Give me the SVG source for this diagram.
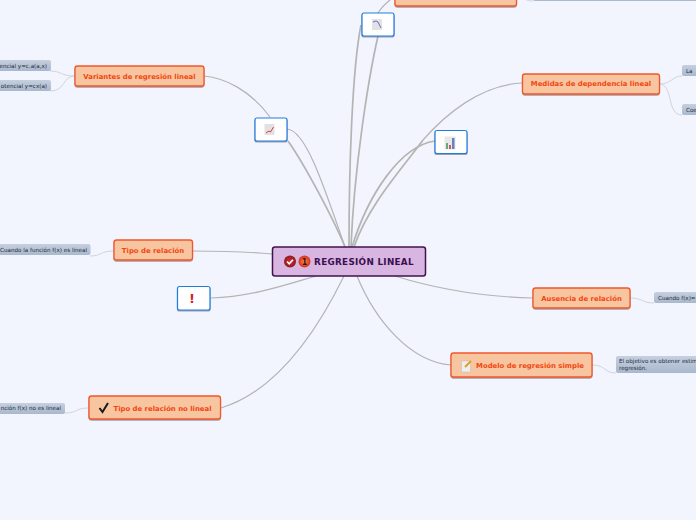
<svg xmlns="http://www.w3.org/2000/svg" width="696" height="520" viewBox="0 0 696 520">
<style>
text{font-family:"DejaVu Sans","Liberation Sans",sans-serif}
.c{fill:none;stroke:#b4b4b4;stroke-width:1.2}
.c2{fill:none;stroke:#b4b4b4;stroke-width:1.7}
.l{fill:none;stroke:#d0d4dc;stroke-width:1}
.o{fill:#f7c6a0;stroke:#f4572a;stroke-width:1.3;filter:url(#s)}
.ot{fill:#f4450f;font-size:6.9px;font-weight:bold;text-anchor:middle}
.w{fill:#fff;stroke:#1f7fe0;stroke-width:1.2;filter:url(#s)}
.b{fill:url(#g)}
.bt{fill:#1f2836;font-size:5.6px}
</style>
<defs>
<filter id="s" x="-10%" y="-10%" width="120%" height="130%"><feDropShadow dx="0" dy="1" stdDeviation="0.7" flood-color="#555" flood-opacity="0.55"/></filter>
<linearGradient id="g" x1="0" y1="0" x2="0" y2="1"><stop offset="0" stop-color="#c5d0e0"/><stop offset="1" stop-color="#a9b8cd"/></linearGradient>
<radialGradient id="r1"><stop offset="0" stop-color="#d8303a"/><stop offset="1" stop-color="#8e1a20"/></radialGradient>
<radialGradient id="r2"><stop offset="0" stop-color="#f58a50"/><stop offset="1" stop-color="#d8301c"/></radialGradient>
</defs>
<rect width="696" height="520" fill="#f2f5fe"/>
<g id="connectors">
<path class="c2" d="M345 247C335 222 305 165 288 141"/>
<path class="c" d="M287 129C305 130 322 180 345 247"/>
<path class="c" d="M270 117C250 90 225 78 204 76"/>
<path class="c2" d="M349 247C349 170 352 70 361 25"/>
<path class="c2" d="M351 247C354 170 368 80 378 36"/>
<path class="c" d="M378 13C381 8 385 4 390 0"/>
<path class="c2" d="M354 247C368 205 405 165 423 140"/>
<path class="c" d="M423 140C445 115 480 85 522 83"/>
<path class="c2" d="M352 247C368 195 400 146 435 141"/>
<path class="c" d="M192 251C220 251 250 252 272 254"/>
<path class="c" d="M211 298C250 297 285 285 316 276"/>
<path class="c" d="M221 408C280 390 320 325 344 276"/>
<path class="c" d="M357 276C375 320 410 362 451 365"/>
<path class="c" d="M395 276C440 290 490 297 533 298"/>
<path class="l" d="M75 76C60 76 62 71 50 71"/>
<path class="l" d="M75 76C62 76 66 91 50 91"/>
<path class="l" d="M114 251C100 251 102 256 90 256"/>
<path class="l" d="M89 408C75 408 78 413 65 413"/>
<path class="l" d="M659 84C672 84 672 76 682 76"/>
<path class="l" d="M659 84C674 84 666 115 682 115"/>
<path class="l" d="M630 298C643 298 642 303 654 303"/>
<path class="l" d="M592 365C606 365 604 373 616 373"/>
<path class="l" d="M516 -3C525 -3 525 1 533 1"/>
</g>
<g id="n-central">
<rect x="272.500" y="247" width="153" height="29" rx="2.500" fill="#d9b6e1" stroke="#43124f" stroke-width="1.500"/>
<circle cx="290" cy="261.500" r="6" fill="url(#r1)"/>
<path d="M287 261.500l2.200 2.300 3.800-4" fill="none" stroke="#fff" stroke-width="1.600"/>
<circle cx="304.500" cy="261.500" r="6" fill="url(#r2)"/>
<text x="304.500" y="264.500" font-size="8" font-weight="bold" text-anchor="middle" fill="#3a1a10">1</text>
<text x="364" y="265" font-size="8.800" font-weight="bold" text-anchor="middle" fill="#3a1050" letter-spacing="0.300">REGRESIÓN LINEAL</text>
</g>
<g id="n-variantes">
<rect class="o" x="75" y="66" width="129" height="20" rx="2.500"/>
<text class="ot" x="139.500" y="79">Variantes de regresión lineal</text>
</g>
<g id="n-var-l1"><rect class="b" x="-20" y="60" width="71" height="11" rx="2"/><text class="bt" x="47" y="68" text-anchor="end">encial y=c.a(a,x)</text></g>
<g id="n-var-l2"><rect class="b" x="-20" y="80" width="71" height="11" rx="2"/><text class="bt" x="47" y="88" text-anchor="end">otencial y=cx(a)</text></g>
<g id="n-icon1">
<rect class="w" x="255" y="118" width="32" height="23" rx="2"/>
<rect x="264.500" y="124" width="10" height="11" fill="#e2e2e2"/><path d="M266 133l3-2 1.500 1 3-5" fill="none" stroke="#d04040"/>
</g>
<g id="n-icon2">
<rect class="w" x="362" y="13" width="32" height="23" rx="2"/>
<rect x="372" y="19" width="10" height="11" fill="#e2e2e2"/><path d="M373 22l3-1 2 1 3 6" fill="none" stroke="#6a6ad8"/>
</g>
<g id="n-top"><rect class="o" x="395" y="-14" width="121.500" height="20" rx="2.500"/></g>
<g id="n-top-l"><rect class="b" x="533" y="-10" width="170" height="11" rx="2"/></g>
<g id="n-icon3">
<rect class="w" x="435" y="130.500" width="32" height="23" rx="2"/>
<rect x="444.500" y="136.500" width="11" height="13" fill="#e8e8e8"/><rect x="446" y="143" width="2" height="6" fill="#6fa878"/><rect x="449" y="145" width="2" height="4" fill="#c86060"/><rect x="452" y="138" width="2.500" height="11" fill="#6a80c8"/>
</g>
<g id="n-medidas">
<rect class="o" x="522.500" y="74" width="137" height="20" rx="2.500"/>
<text class="ot" x="591" y="86">Medidas de dependencia lineal</text>
</g>
<g id="n-med-l1"><rect class="b" x="682" y="65" width="20" height="11" rx="2"/><text class="bt" x="686" y="73">La</text></g>
<g id="n-med-l2"><rect class="b" x="682" y="104" width="20" height="11" rx="2"/><text class="bt" x="686" y="112">Coe</text></g>
<g id="n-tipo">
<rect class="o" x="114" y="240" width="78.500" height="20" rx="2.500"/>
<text class="ot" x="153" y="253">Tipo de relación</text>
</g>
<g id="n-tipo-l"><rect class="b" x="-10" y="244" width="100.500" height="11" rx="2"/><text class="bt" x="0" y="252">Cuando la función f(x) es lineal</text></g>
<g id="n-excl">
<rect class="w" x="177.500" y="286.500" width="32.500" height="23.500" rx="2"/>
<text x="192" y="303" font-size="13" font-weight="bold" text-anchor="middle" fill="#d8202a">!</text>
</g>
<g id="n-no">
<rect class="o" x="89" y="396" width="131.500" height="23" rx="2.500"/>
<path d="M99.500 408l3 4 5.500-9" fill="none" stroke="#1a1a1a" stroke-width="2"/>
<text class="ot" x="162.500" y="410.500">Tipo de relación no lineal</text>
</g>
<g id="n-no-l"><rect class="b" x="-10" y="403" width="75" height="11" rx="2"/><text class="bt" x="61" y="410" text-anchor="end">nción f(x) no es lineal</text></g>
<g id="n-ausencia">
<rect class="o" x="533" y="288" width="97" height="20" rx="2.500"/>
<text class="ot" x="581.500" y="300.500">Ausencia de relación</text>
</g>
<g id="n-aus-l"><rect class="b" x="654" y="292" width="50" height="11" rx="2"/><text class="bt" x="658" y="300">Cuando f(x)=</text></g>
<g id="n-modelo">
<rect class="o" x="451" y="353" width="141" height="24" rx="2.500"/>
<rect x="461.500" y="361" width="9" height="11" fill="#eee" stroke="#bbb" stroke-width="0.500"/><path d="M465 367l6-6" stroke="#e0a020" stroke-width="2"/>
<text class="ot" x="530" y="367.500">Modelo de regresión simple</text>
</g>
<g id="n-mod-l"><rect class="b" x="616" y="356" width="90" height="17" rx="2"/><text class="bt"><tspan x="619" y="363">El objetivo es obtener estim</tspan><tspan x="619" y="370">regresión.</tspan></text></g>
</svg>
